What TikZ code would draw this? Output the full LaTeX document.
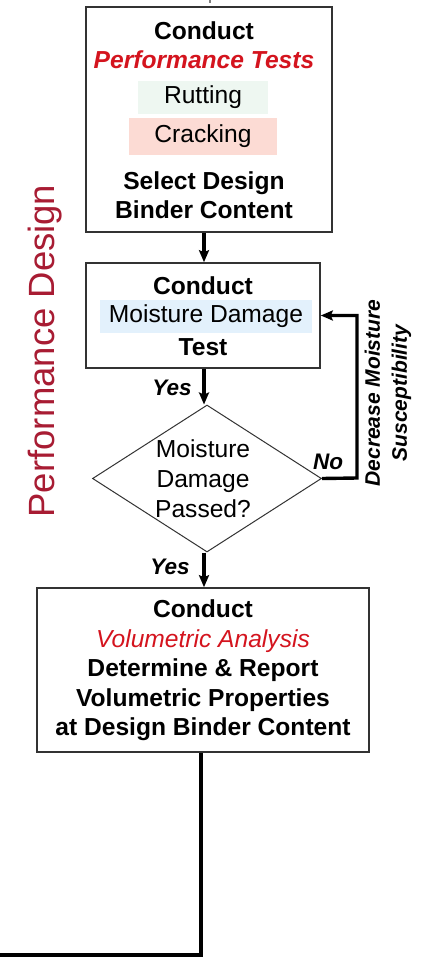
\documentclass[tikz,border=0pt]{standalone}
\usepackage{fontspec}
\setmainfont{Liberation Sans}
\usetikzlibrary{shapes.geometric,arrows.meta}
\definecolor{boxline}{HTML}{333333}
\definecolor{perfred}{HTML}{D4141E}
\definecolor{designred}{HTML}{A81C33}
\definecolor{ruttfill}{HTML}{EEF7F1}
\definecolor{crackfill}{HTML}{FCDBD4}
\definecolor{moistfill}{HTML}{E3F1FC}
\tikzset{
  x=1pt, y=-1pt,
  stepbox/.style={draw=boxline, line width=1.6pt, fill=white, inner sep=0pt},
  txt/.style={align=center, inner sep=0pt, font=\fontsize{24.6}{29.5}\selectfont\bfseries},
  plain/.style={align=center, inner sep=0pt, font=\fontsize{24.6}{30}\selectfont},
  hilite/.style={inner sep=0pt, font=\fontsize{24.6}{29.5}\selectfont},
  flow/.style={line width=3.4pt, -{Stealth[length=12pt,width=10pt,inset=2pt]}},
  wire/.style={line width=3.4pt},
  tag/.style={inner sep=0pt, font=\fontsize{22.5}{26}\selectfont\bfseries\itshape},
}
\begin{document}
\begin{tikzpicture}
\useasboundingbox (0,0) rectangle (426,977);
\fill[white] (0,0) rectangle (426,977);

% incoming stub at the top edge
\coordinate (topin) at (210,0);
\draw[gray, line width=1.5pt] (topin) -- ++(0,3);

% performance tests box
\node[stepbox, minimum width=246pt, minimum height=225pt] (box1) at (209,119.5) {};
\node[txt] (b1a) at (204,45) {Conduct\\\textcolor{perfred}{\itshape Performance Tests}};
\node[hilite, fill=ruttfill, minimum width=130pt, minimum height=33pt] (rut) at (203,97.5) {Rutting};
\node[hilite, fill=crackfill, minimum width=148pt, minimum height=37pt] (crack) at (203,136.5) {Cracking};
\node[txt] (b1b) at (204,195) {Select Design\\Binder Content};

% moisture damage test box
\node[stepbox, minimum width=234pt, minimum height=105pt] (box2) at (203,315.5) {};
\node[txt] (b2a) at (203,286) {Conduct};
\node[hilite, fill=moistfill, minimum width=212pt, minimum height=33pt] (moist) at (206,316.5) {Moisture Damage};
\node[txt] (b2b) at (203,347) {Test};

% decision
\node[diamond, draw=boxline, line width=1pt, fill=white, inner sep=0pt,
      minimum width=229pt, minimum height=147pt] (dia) at (207,478.5) {};
\node[plain] (diatxt) at (203,479) {Moisture\\Damage\\Passed?};

% volumetric analysis box
\node[stepbox, minimum width=332pt, minimum height=164pt] (box3) at (203,670) {};
\node[txt] (b3) at (203,670.5) {Conduct\\\textcolor{perfred}{\mdseries\itshape Volumetric Analysis}\\Determine \& Report\\Volumetric Properties\\at Design Binder Content};

% connectors
\draw[flow] (box1.south -| 204,0) -- (box2.north -| 204,0);
\draw[flow] (box2.south -| 204,0) -- (dia.north -| 204,0);
\draw[flow] (dia.south -| 204,0) -- (box3.north -| 204,0);
\coordinate (loop) at (357,478);
\draw[wire, -{Stealth[length=12pt,width=10pt,inset=2pt]}] (dia.east) -- (loop) |- (box2.east);
\coordinate (exit) at (0,955);
\draw[wire] (box3.south -| 201,0) |- (exit);

% connector labels
\node[tag] (yes1) at (172,388) {Yes};
\node[tag] (yes2) at (170,567) {Yes};
\node[tag] (no) at (328,462) {No};
\node[inner sep=0pt, align=center, rotate=90, font=\fontsize{21}{27}\selectfont\bfseries\itshape] (dec) at (388,393) {Decrease Moisture\\Susceptibility};

% phase label
\node[inner sep=0pt, rotate=90, anchor=base, text=designred, font=\fontsize{36.5}{40}\selectfont] (phase) at (54,351) {Performance Design};
\end{tikzpicture}
\end{document}
